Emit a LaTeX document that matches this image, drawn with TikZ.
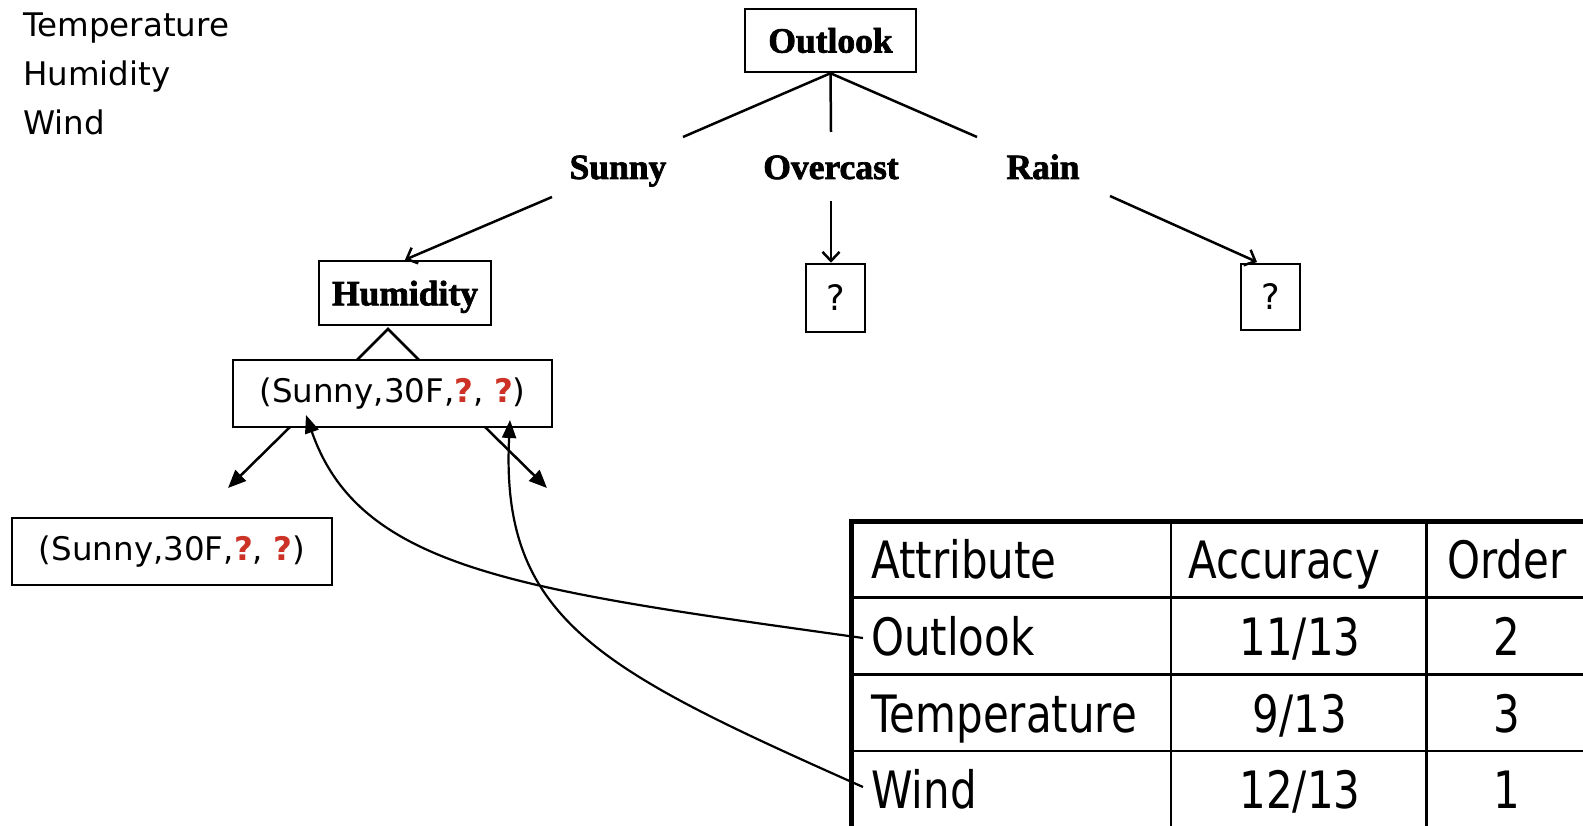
\documentclass[tikz,border=0pt]{standalone}
\usepackage{fontspec}
\usetikzlibrary{arrows.meta}
\setmainfont{DejaVu Sans}
\newfontfamily\tabfont[FakeStretch=0.815]{DejaVu Sans}
\newfontfamily\treefont[BoldFeatures={FakeBold=2}]{Liberation Serif}
\definecolor{qred}{RGB}{204,51,38}
\tikzset{
  box/.style={draw, line width=2.5pt, inner sep=0pt},
  lbl/.style={font=\treefont\bfseries\fontsize{35.5}{40}\selectfont, inner sep=0pt},
  plain/.style={font=\fontsize{32.5}{38}\selectfont, inner sep=0pt},
  qtxt/.style={font=\fontsize{35}{40}\selectfont},
  tab/.style={font=\tabfont\fontsize{51.5}{60}\selectfont, inner sep=0pt},
  tl/.style={line width=2.5pt},
  ta/.style={line width=2.5pt, -{Straight Barb[length=9pt,width=17pt]}},
  fa/.style={line width=2.5pt, -{Triangle[length=18pt,width=15pt]}},
  cv/.style={line width=2.2pt, -{Triangle[length=18pt,width=14pt]}},
  thick border/.style={line width=5pt},
  thin border/.style={line width=2.5pt},
}
\begin{document}
\begin{tikzpicture}[x=1pt, y=-1pt]
\useasboundingbox (0,0) rectangle (1583,826);

% top-left list
\node[plain, anchor=base west] (l1) at (23,37) {Temperature};
\node[plain, anchor=base west] (l2) at (23,86) {Humidity};
\node[plain, anchor=base west] (l3) at (23,135) {Wind};

% tree
\node[box, lbl, minimum width=171pt, minimum height=63pt] (outlook) at (830.5,40.5) {Outlook};
\node[lbl, anchor=base] (sunny) at (618,179) {Sunny};
\node[lbl, anchor=base] (overcast) at (831,179) {Overcast};
\node[lbl, anchor=base] (rain) at (1043,179) {Rain};
\node[box, lbl, minimum width=172pt, minimum height=64pt, text depth=0pt] (humid) at (405,293) {Humidity};
\node[box, qtxt, minimum width=59pt, minimum height=68pt] (q1) at (835.5,298) {?};
\node[box, qtxt, minimum width=59pt, minimum height=66pt] (q2) at (1270.5,297) {?};
\node[box, plain, minimum width=319pt, minimum height=67pt] (t1) at (392.5,393.5)
  {(Sunny,30F,\textcolor{qred}{\bfseries ?}, \textcolor{qred}{\bfseries ?})};
\node[box, plain, minimum width=320pt, minimum height=67pt] (t2) at (172,551.5)
  {(Sunny,30F,\textcolor{qred}{\bfseries ?}, \textcolor{qred}{\bfseries ?})};

\coordinate (sE) at (683,137);
\coordinate (oE) at (831,132);
\coordinate (rE) at (977,137);
\draw[tl] (outlook.south) -- (sE);
\draw[tl] (outlook.south) -- (oE);
\draw[tl] (outlook.south) -- (rE);

\coordinate (sS) at (552,197);
\coordinate (oS) at (831,201);
\coordinate (rS) at (1110,196);
\coordinate (rT) at (1257,262);
\draw[ta] (sS) -- (humid.north);
\draw[ta] (oS) -- (oS |- q1.north);
\draw[ta] (rS) -- (rT);

\coordinate (apex) at (388,329);
\coordinate (footL) at (357,360);
\coordinate (footR) at (419,360);
\draw[tl] (footL) -- (apex) -- (footR);

\coordinate (d1s) at (290,427);
\coordinate (d1e) at (228,488);
\coordinate (d2s) at (485,427);
\coordinate (d2e) at (547,488);
\draw[fa] (d1s) -- (d1e);
\draw[fa] (d2s) -- (d2e);

% table
\draw[thin border] (851,597.7) -- (1583,597.7);
\draw[thin border] (851,674.4) -- (1583,674.4);
\draw[thin border] (851,751.1) -- (1583,751.1);
\draw[thin border] (1171,521) -- (1171,826);
\draw[thin border] (1426.6,521) -- (1426.6,826);
\draw[thick border, line join=miter] (851,830) -- (851,521) -- (1590,521);

\node[tab, anchor=base west] (hA) at (871,578) {Attribute};
\node[tab, anchor=base] (hB) at (1284,578) {Accuracy};
\node[tab, anchor=base] (hC) at (1507,578) {Order};
\node[tab, anchor=base west] (r1) at (871,655) {Outlook};
\node[tab, anchor=base] (r1b) at (1300,655) {11/13};
\node[tab, anchor=base] (r1c) at (1507,655) {2};
\node[tab, anchor=base west] (r2) at (871,732) {Temperature};
\node[tab, anchor=base] (r2b) at (1300,732) {9/13};
\node[tab, anchor=base] (r2c) at (1507,732) {3};
\node[tab, anchor=base west] (r3) at (871,808) {Wind};
\node[tab, anchor=base] (r3b) at (1300,808) {12/13};
\node[tab, anchor=base] (r3c) at (1507,808) {1};

% curved arrows
\coordinate (cOut) at (863,638);
\coordinate (cWind) at (863,787);
\coordinate (tipS) at (306,415);
\coordinate (tipQ) at (510,420);
\draw[cv] (cOut) .. controls (520,590) and (360,570) .. (tipS);
\draw[cv] (cWind) .. controls (600,670) and (500,620) .. (tipQ);
\end{tikzpicture}
\end{document}
